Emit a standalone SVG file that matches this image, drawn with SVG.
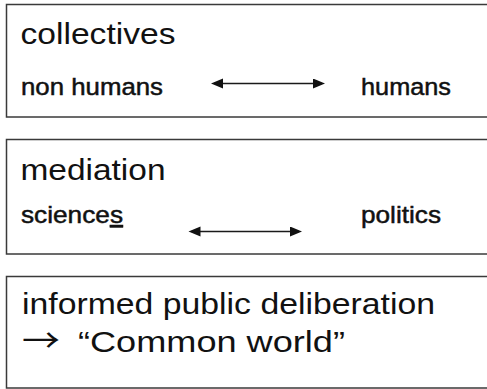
<svg xmlns="http://www.w3.org/2000/svg" width="487" height="389" viewBox="0 0 487 389">
<defs>
<style>
.box{fill:#ffffff;stroke:#3a3a3a;stroke-width:1.5}
.title{font-family:"Liberation Sans",Arial,sans-serif;font-size:29px;fill:#111}
.glyph{font-family:"Noto Sans CJK JP","DejaVu Sans",sans-serif;font-size:32px;fill:#111}
.label{font-family:"Liberation Sans",Arial,sans-serif;font-size:24.5px;fill:#111;stroke:#111;stroke-width:0.5}
.conn{stroke:#1a1a1a;stroke-width:1.5;fill:none;marker-start:url(#ah);marker-end:url(#ah)}
</style>
<marker id="ah" markerUnits="userSpaceOnUse" markerWidth="14" markerHeight="11" refX="9" refY="5" orient="auto-start-reverse" viewBox="0 0 14 11">
<path d="M0,0 L12,5 L0,10 z" fill="#111"/>
</marker>
</defs>
<rect width="487" height="389" fill="#ffffff"/>
<g id="collectives">
<rect class="box" x="6.5" y="4.5" width="500" height="112.5"/>
<text class="title" x="20.5" y="44" textLength="155" lengthAdjust="spacingAndGlyphs">collectives</text>
<text class="label" x="21" y="95" textLength="142" lengthAdjust="spacingAndGlyphs">non humans</text>
<text class="label" x="361" y="95" textLength="90" lengthAdjust="spacingAndGlyphs">humans</text>
</g>
<g id="mediation">
<rect class="box" x="6.5" y="139.5" width="500" height="114.5"/>
<text class="title" x="20.5" y="180" textLength="145" lengthAdjust="spacingAndGlyphs">mediation</text>
<text class="label" x="21" y="223" textLength="102" lengthAdjust="spacingAndGlyphs">science<tspan text-decoration="underline">s</tspan></text>
<text class="label" x="361" y="223" textLength="80" lengthAdjust="spacingAndGlyphs">politics</text>
</g>
<g id="deliberation">
<rect class="box" x="6.5" y="276.5" width="500" height="111.5"/>
<text class="title" x="22" y="314" textLength="413" lengthAdjust="spacingAndGlyphs">informed public deliberation</text>
<text class="glyph" x="22" y="352" textLength="38" lengthAdjust="spacingAndGlyphs">→</text>
<text class="title" x="78" y="352" textLength="267" lengthAdjust="spacingAndGlyphs">“Common world”</text>
</g>
<g id="connectors">
<line class="conn" x1="214" y1="83.5" x2="322" y2="83.5"/>
<line class="conn" x1="191.5" y1="231.5" x2="299" y2="231.5"/>
</g>
</svg>
